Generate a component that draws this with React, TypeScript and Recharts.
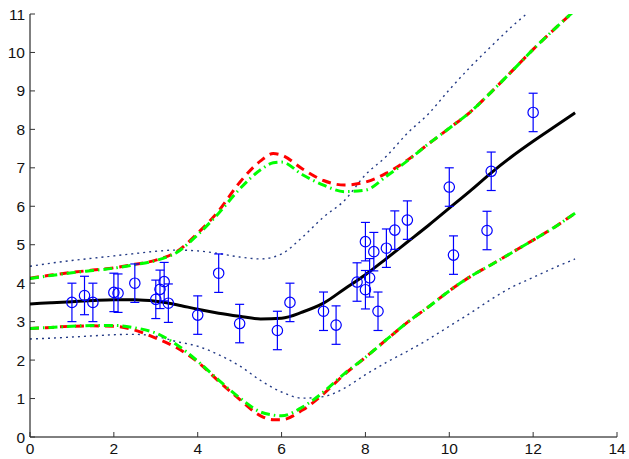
import React from "react";
import { ComposedChart, Line, Scatter, ErrorBar, XAxis, YAxis } from "recharts";

// ---- observations (circles with error bars) ----
const obsX = [1.0, 1.3, 1.5, 2.0, 2.1, 2.5, 3.0, 3.1, 3.2, 3.3, 4.0, 4.5, 5.0, 5.9, 6.2, 7.0, 7.3, 7.8, 8.0, 8.0, 8.1, 8.2, 8.3, 8.5, 8.7, 9.0, 10.0, 10.1, 10.9, 11.0, 12.0];
const obsY = [3.50, 3.68, 3.50, 3.76, 3.74, 4.00, 3.58, 3.84, 4.04, 3.48, 3.17, 4.26, 2.95, 2.77, 3.50, 3.27, 2.91, 4.03, 3.83, 5.08, 4.14, 4.82, 3.27, 4.91, 5.38, 5.64, 6.50, 4.73, 5.37, 6.91, 8.44];
const obsErr = [0.5, 0.5, 0.5, 0.5, 0.5, 0.5, 0.5, 0.5, 0.5, 0.5, 0.5, 0.5, 0.5, 0.5, 0.5, 0.5, 0.5, 0.5, 0.5, 0.5, 0.5, 0.5, 0.5, 0.5, 0.5, 0.5, 0.5, 0.5, 0.5, 0.5, 0.5];

// ---- curves ----
const gridX = [0, 0.5, 1, 1.5, 2, 2.5, 3, 3.5, 4, 4.5, 5, 5.5, 6, 6.5, 7, 7.5, 8, 8.5, 9, 9.5, 10, 10.5, 11, 11.5, 12, 12.5, 13];
const meanY = [3.46, 3.49, 3.52, 3.55, 3.57, 3.57, 3.53, 3.44, 3.32, 3.22, 3.14, 3.07, 3.09, 3.25, 3.48, 3.85, 4.22, 4.64, 5.07, 5.50, 5.95, 6.40, 6.87, 7.30, 7.69, 8.06, 8.43];
const dotUpperY = [4.44, 4.52, 4.59, 4.65, 4.71, 4.77, 4.83, 4.86, 4.84, 4.77, 4.68, 4.63, 4.76, 5.20, 5.72, 6.15, 6.82, 7.30, 7.90, 8.40, 9.03, 9.62, 10.16, 10.68, 11.15, 11.65, 12.15];
const dotLowerY = [2.55, 2.57, 2.60, 2.63, 2.66, 2.67, 2.62, 2.48, 2.36, 2.14, 1.85, 1.47, 1.17, 1.01, 1.05, 1.27, 1.62, 1.94, 2.23, 2.54, 2.88, 3.22, 3.58, 3.90, 4.15, 4.40, 4.63];

const bandX = [0, 0.5, 1, 1.5, 2, 2.5, 3, 3.5, 4, 4.5, 5, 5.5, 5.8, 6, 6.5, 7, 7.5, 8, 8.5, 9, 9.5, 10, 10.5, 11, 11.5, 12, 12.5, 13];
const redUpperY = [4.13, 4.21, 4.28, 4.34, 4.40, 4.49, 4.60, 4.82, 5.30, 5.88, 6.62, 7.18, 7.37, 7.33, 6.97, 6.67, 6.55, 6.63, 6.86, 7.20, 7.62, 8.03, 8.45, 8.97, 9.52, 10.08, 10.60, 11.10];
const greenUpperY = [4.12, 4.20, 4.27, 4.33, 4.39, 4.48, 4.59, 4.80, 5.26, 5.82, 6.45, 6.95, 7.13, 7.15, 6.82, 6.55, 6.38, 6.42, 6.78, 7.18, 7.62, 8.03, 8.45, 8.97, 9.52, 10.08, 10.60, 11.10];
const redLowerY = [2.82, 2.85, 2.88, 2.89, 2.88, 2.78, 2.57, 2.32, 1.95, 1.45, 0.98, 0.55, 0.45, 0.45, 0.70, 1.12, 1.63, 2.07, 2.53, 2.98, 3.38, 3.80, 4.17, 4.48, 4.80, 5.12, 5.45, 5.82];
const greenLowerY = [2.82, 2.85, 2.88, 2.90, 2.90, 2.84, 2.70, 2.40, 1.97, 1.48, 1.02, 0.65, 0.57, 0.55, 0.78, 1.17, 1.65, 2.07, 2.53, 2.98, 3.38, 3.80, 4.17, 4.48, 4.80, 5.12, 5.45, 5.82];

const xTicks = [0, 2, 4, 6, 8, 10, 12, 14];
const yTicks = [0, 1, 2, 3, 4, 5, 6, 7, 8, 9, 10, 11];

const toPts = (xs: number[], ys: number[]) => xs.map((x, i) => ({ x, y: ys[i] }));
const obsData = obsX.map((x, i) => ({ x, y: obsY[i], err: obsErr[i] }));

const FONT = "'Liberation Sans', Arial, Helvetica, sans-serif";

const YTick = (props: any) => {
  const { x, y, payload } = props;
  return (
    <g>
      <line x1={x} x2={x + 5} y1={y} y2={y} stroke="#333" strokeWidth={1} />
      <text x={x - 5} y={y + 5.5} textAnchor="end" fontSize={15.5} fontFamily={FONT} fill="#111">
        {payload.value}
      </text>
    </g>
  );
};

const XTick = (props: any) => {
  const { x, y, payload } = props;
  return (
    <g>
      <line x1={x} x2={x} y1={y} y2={y - 5} stroke="#333" strokeWidth={1} />
      <text x={x} y={y + 17} textAnchor="middle" fontSize={15.5} fontFamily={FONT} fill="#111">
        {payload.value}
      </text>
    </g>
  );
};

const Ring = (props: any) => {
  const { cx, cy } = props;
  if (cx == null || cy == null) return null;
  return <circle cx={cx} cy={cy} r={5.2} fill="none" stroke="#0000ff" strokeWidth={1.2} />;
};

export default function App() {
  return (
    <div style={{ position: "absolute", left: 0, top: 0, width: 629, height: 459, background: "#fff" }}>
      <ComposedChart width={629} height={459} margin={{ top: 14, right: 12, bottom: 0, left: 0 }}>
        <XAxis
          type="number"
          dataKey="x"
          domain={[0, 14]}
          ticks={xTicks}
          allowDataOverflow
          height={22}
          tickSize={0}
          tickMargin={0}
          tickLine={false}
          axisLine={{ stroke: "#000", strokeWidth: 1 }}
          tick={<XTick />}
        />
        <YAxis
          type="number"
          dataKey="y"
          domain={[0, 11]}
          ticks={yTicks}
          allowDataOverflow
          width={30}
          tickSize={0}
          tickMargin={0}
          tickLine={false}
          axisLine={{ stroke: "#000", strokeWidth: 1 }}
          tick={<YTick />}
        />
        <Line data={toPts(gridX, dotUpperY)} dataKey="y" type="monotone" stroke="#233a85" strokeWidth={1.4} strokeDasharray="2 4" dot={false} activeDot={false} isAnimationActive={false} />
        <Line data={toPts(gridX, dotLowerY)} dataKey="y" type="monotone" stroke="#233a85" strokeWidth={1.4} strokeDasharray="2 4" dot={false} activeDot={false} isAnimationActive={false} />
        <Line data={toPts(bandX, redUpperY)} dataKey="y" type="monotone" stroke="#ff0000" strokeWidth={3} strokeDasharray="9 6" dot={false} activeDot={false} isAnimationActive={false} />
        <Line data={toPts(bandX, redLowerY)} dataKey="y" type="monotone" stroke="#ff0000" strokeWidth={3} strokeDasharray="9 6" dot={false} activeDot={false} isAnimationActive={false} />
        <Line data={toPts(bandX, greenUpperY)} dataKey="y" type="monotone" stroke="#00ff00" strokeWidth={3} strokeDasharray="9 4 1.5 4" dot={false} activeDot={false} isAnimationActive={false} />
        <Line data={toPts(bandX, greenLowerY)} dataKey="y" type="monotone" stroke="#00ff00" strokeWidth={3} strokeDasharray="9 4 1.5 4" dot={false} activeDot={false} isAnimationActive={false} />
        <Line data={toPts(gridX, meanY)} dataKey="y" type="monotone" stroke="#000" strokeWidth={3} dot={false} activeDot={false} isAnimationActive={false} />
        <Scatter data={obsData} dataKey="y" shape={<Ring />} isAnimationActive={false}>
          <ErrorBar dataKey="err" direction="y" width={4.5} stroke="#0000ff" strokeWidth={1.2} isAnimationActive={false} />
        </Scatter>
      </ComposedChart>
    </div>
  );
}
